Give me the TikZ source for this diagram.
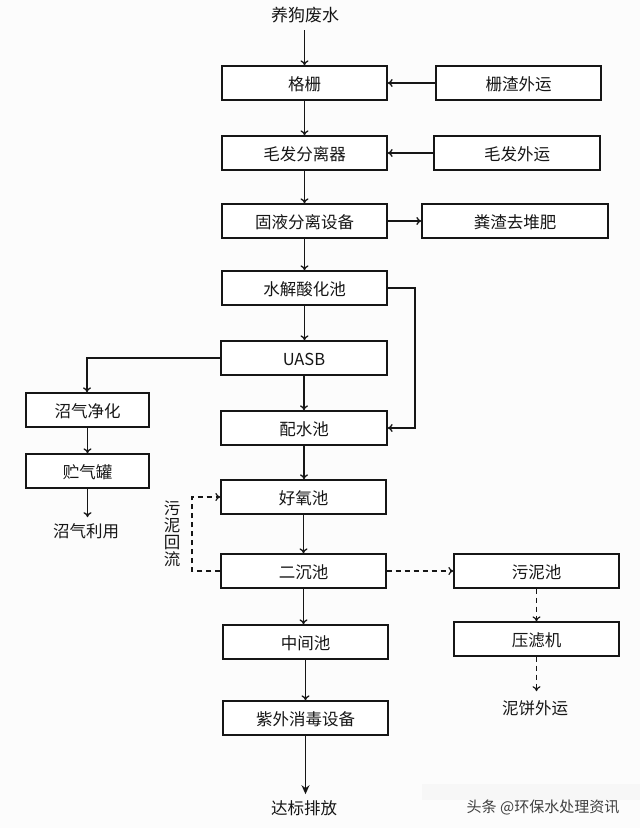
\documentclass[tikz,border=0pt]{standalone}
\usepackage{fontspec}
\setmainfont{Noto Sans CJK SC}
\usetikzlibrary{arrows.meta,calc}
\definecolor{ink}{HTML}{161616}
\tikzset{
  x=1pt,y=-1pt,
  every node/.style={font=\fontsize{16.5pt}{18pt}\selectfont,text=ink},
  box/.style={draw=ink,line width=1.3pt,fill=white,inner sep=0pt,anchor=center,text height=16pt,text depth=1.5pt},
  lbl/.style={inner sep=0pt,anchor=center},
  flow/.style={draw=ink,line width=1.35pt,-{To[length=5pt,width=8pt]}},
  dflow/.style={flow,line width=1.2pt,dash pattern=on 5pt off 4pt},
}
\newcommand{\flowbox}[6]{\node[box,minimum width=(#4-#2)*1pt,minimum height=(#5-#3)*1pt] (#1) at ({(#2+#4)/2},{(#3+#5)/2}) {#6};}
\begin{document}
\begin{tikzpicture}
\useasboundingbox (0,0) rectangle (640,828);
\fill[white!99!black] (0,0) rectangle (640,828);
% faint watermark band
\fill[black!3] (422,784) rectangle (640,800);
% main column
\flowbox{a}{222}{66}{387}{100}{格栅}
\flowbox{b}{222}{136}{387}{170}{毛发分离器}
\flowbox{c}{222}{204}{387}{238}{固液分离设备}
\flowbox{d}{222}{271}{387}{305}{水解酸化池}
\flowbox{e}{221}{341}{387}{375}{UASB}
\flowbox{f}{221}{411}{387}{445}{配水池}
\flowbox{g}{221}{480}{386}{514}{好氧池}
\flowbox{h}{221}{554}{386}{588}{二沉池}
\flowbox{i}{223}{625}{388}{659}{中间池}
\flowbox{j}{223}{701}{388}{735}{紫外消毒设备}
% right column
\flowbox{k}{436}{66}{601}{100}{栅渣外运}
\flowbox{l}{434}{136}{600}{170}{毛发外运}
\flowbox{m}{422}{204}{608}{238}{粪渣去堆肥}
\flowbox{n}{454}{554}{619}{588}{污泥池}
\flowbox{o}{454}{622}{619}{656}{压滤机}
% left column
\flowbox{p}{26}{393}{149}{427}{沼气净化}
\flowbox{q}{26}{454}{149}{488}{贮气罐}
% free labels
\node[lbl,font=\fontsize{17pt}{18pt}\selectfont] (src) at (305,15) {养狗废水};
\node[lbl] (use) at (86,531) {沼气利用};
\node[lbl] (cake) at (535,708) {泥饼外运};
\node[lbl] (out) at (304,808) {达标排放};
\node[lbl,align=center,font=\fontsize{16.5pt}{17pt}\selectfont] (ret) at (172,534) {污\\泥\\回\\流};
\node[lbl,font=\fontsize{15pt}{16pt}\selectfont,text=black!75] (wm) at (543,807) {头条 @环保水处理资讯};
% connectors
\coordinate (srcb) at (a.north |- src.south);
\draw[flow,shorten <=7pt] (srcb) -- (a.north);
\draw[flow] (a.south) -- (a.south |- b.north);
\draw[flow] (b.south) -- (b.south |- c.north);
\draw[flow] (c.south) -- (c.south |- d.north);
\draw[flow] (d.south) -- (d.south |- e.north);
\draw[flow] (e.south) -- (e.south |- f.north);
\draw[flow] (f.south) -- (f.south |- g.north);
\draw[flow] (g.south) -- (g.south |- h.north);
\draw[flow] (h.south) -- (h.south |- i.north);
\draw[flow] (i.south) -- (i.south |- j.north);
\draw[flow,-{Stealth[length=9pt,width=8pt]},shorten >=6pt] (j.south) -- (j.south |- out.north);
\draw[flow] (k) -- (a);
\draw[flow] (l) -- (b);
\draw[flow] (c) -- (m);
\coordinate (dr) at (415,288);
\coordinate (fr) at (415,428);
\draw[flow] (d.east) -- (dr) -- (fr) -- (f.east);
\coordinate (el) at (87,358);
\draw[flow] (e.west) -- (el) -- (el |- p.north);
\draw[flow] (p.south) -- (p.south |- q.north);
\draw[flow,shorten >=6pt] (q.south) -- (q.south |- use.north);
\coordinate (hl) at (192,571);
\coordinate (gl) at (192,497);
\draw[dflow] (h.west) -- (hl) -- (gl) -- (g.west);
\draw[dflow] (h) -- (n);
\draw[dflow] (n.south) -- (n.south |- o.north);
\draw[dflow,shorten >=9pt] (o.south) -- (o.south |- cake.north);
\end{tikzpicture}
\end{document}
